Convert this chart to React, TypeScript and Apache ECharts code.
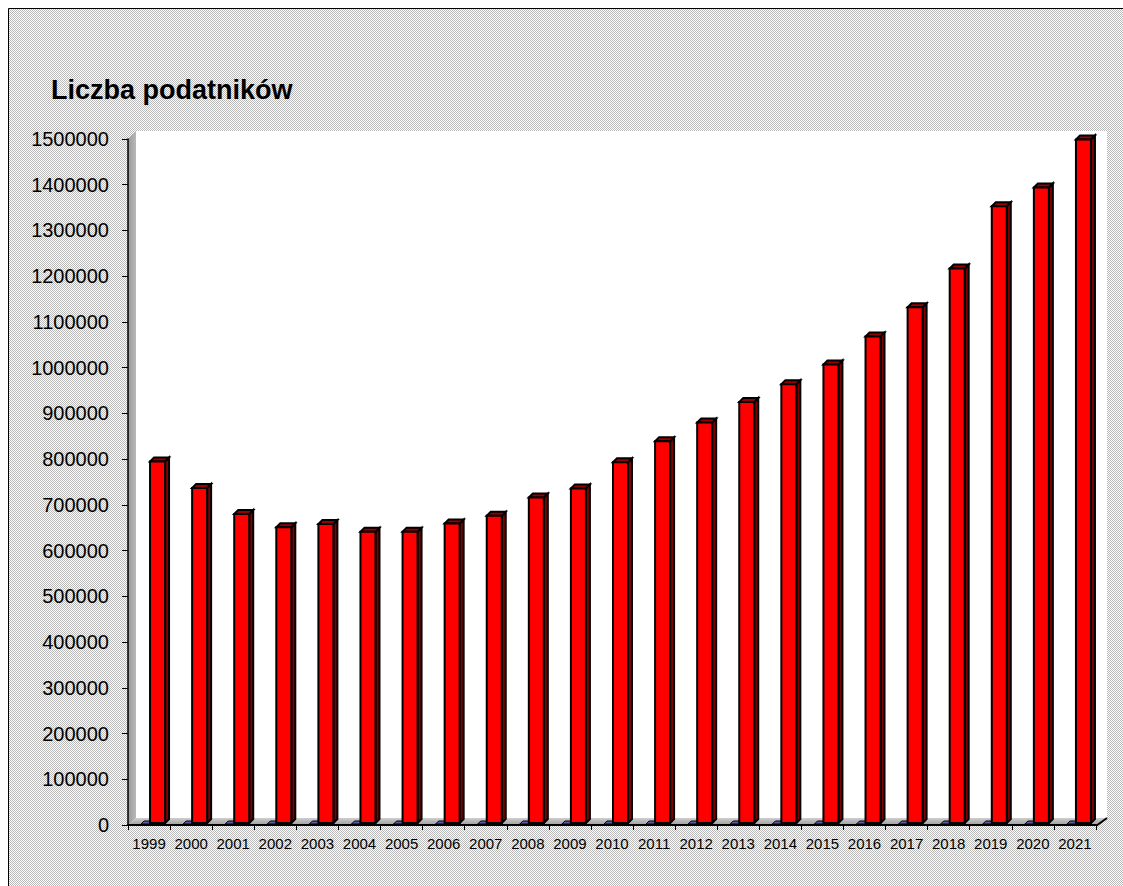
import React, { useEffect, useRef } from "react";
import * as echarts from "echarts";

const titleText = "Liczba podatników";
const years = [
  "1999", "2000", "2001", "2002", "2003", "2004", "2005", "2006", "2007", "2008", "2009", "2010",
  "2011", "2012", "2013", "2014", "2015", "2016", "2017", "2018", "2019", "2020", "2021",
];
const taxpayers = [
  795000, 737000, 680000, 651000, 658000, 641000, 641000, 659000, 676000, 716000, 736000, 793000,
  839000, 880000, 925000, 964000, 1007000, 1068000, 1132000, 1217000, 1353000, 1394000, 1499000,
];
const secondSeries = [0, 0, 0, 0, 0, 0, 0, 0, 0, 0, 0, 0, 0, 0, 0, 0, 0, 0, 0, 0, 0, 0, 0];
const yMin = 0;
const yMax = 1500000;
const yStep = 100000;

const FONT = "'Liberation Sans', Arial, sans-serif";

function makePattern(): string {
  const c = document.createElement("canvas");
  c.width = 2;
  c.height = 2;
  const ctx = c.getContext("2d")!;
  ctx.fillStyle = "#ffffff";
  ctx.fillRect(0, 0, 2, 2);
  ctx.fillStyle = "#b8b8b8";
  ctx.fillRect(0, 0, 1, 1);
  ctx.fillRect(1, 1, 1, 1);
  return c.toDataURL();
}

export default function App() {
  const ref = useRef<HTMLDivElement>(null);
  useEffect(() => {
    if (!ref.current) return;
    const chart = echarts.init(ref.current, undefined, { renderer: "svg" });
    const pat = makePattern();
    const left = 128;
    const right = 1096;
    const top = 139;
    const bottom = 825;

    const redItem = (params: any, api: any) => {
      const idx = api.value(0);
      const p = api.coord([idx, api.value(1)]);
      const b = api.coord([idx, 0]);
      const cx = p[0];
      const yTop = p[1];
      const yBase = b[1] - 2;
      const x0 = cx + 1;
      const x1 = cx + 16;
      const d = 4;
      const st = { stroke: "#000", lineWidth: 2, lineJoin: "miter" };
      return {
        type: "group",
        children: [
          {
            type: "polygon",
            shape: { points: [[x1, yBase], [x1, yTop], [x1 + d, yTop - d], [x1 + d, yBase - d]] },
            style: { fill: "#800000", ...st },
          },
          {
            type: "polygon",
            shape: { points: [[x0, yTop], [x1, yTop], [x1 + d, yTop - d], [x0 + d, yTop - d]] },
            style: { fill: "#990000", ...st },
          },
          {
            type: "rect",
            shape: { x: x0, y: yTop, width: x1 - x0, height: yBase - yTop },
            style: { fill: "#ff0000", ...st },
          },
        ],
      };
    };

    const blueItem = (params: any, api: any) => {
      const idx = api.value(0);
      const p = api.coord([idx, api.value(1)]);
      const cx = p[0];
      const y = p[1] - 2;
      return {
        type: "polygon",
        shape: { points: [[cx - 8, y + 1], [cx + 1, y + 1], [cx + 4, y - 2], [cx - 5, y - 2]] },
        style: { fill: "#5a5aa8", stroke: "#000", lineWidth: 1 },
      };
    };

    chart.setOption({
      animation: false,
      backgroundColor: "#ffffff",
      title: {
        text: titleText,
        left: 46,
        top: 71,
        textStyle: { fontFamily: FONT, fontSize: 27, fontWeight: "bold", color: "#000" },
      },
      graphic: [
        {
          type: "rect",
          z: -5,
          shape: { x: 8.5, y: 8.5, width: 1300, height: 1000 },
          style: {
            fill: { image: pat, repeat: "repeat", imageWidth: 2, imageHeight: 2 } as any,
            stroke: "#000",
            lineWidth: 1,
          },
        },
        {
          type: "rect",
          z: -4,
          shape: { x: 136, y: 131, width: 1107 - 136, height: 818 - 131 },
          style: { fill: "#ffffff" },
        },
        {
          type: "polygon",
          z: -4,
          shape: { points: [[left, top], [136, 131], [136, 818], [left, bottom + 1]] },
          style: {
            fill: new echarts.graphic.LinearGradient(0, 0, 1, 0, [
              { offset: 0, color: "#9a9a9a" },
              { offset: 1, color: "#b8b8b8" },
            ]),
          },
        },
        {
          type: "polygon",
          z: -4,
          shape: { points: [[left, bottom + 1], [136, 818], [1107, 818], [right + 1, bottom + 1]] },
          style: {
            fill: new echarts.graphic.LinearGradient(0, 0, 0, 1, [
              { offset: 0, color: "#cfcfcf" },
              { offset: 1, color: "#969696" },
            ]),
          },
        },
        {
          type: "line",
          z: 3,
          shape: { x1: right, y1: bottom + 1, x2: 1107, y2: 818 },
          style: { stroke: "#000", lineWidth: 2 },
        },
      ],
      grid: { left: left, right: 1123 - right, top: top, bottom: 886 - bottom, containLabel: false },
      xAxis: {
        type: "category",
        data: years,
        z: 3,
        boundaryGap: true,
        axisLine: { show: true, lineStyle: { color: "#000", width: 2 } },
        axisTick: { show: true, interval: 0, length: 5, lineStyle: { color: "#000", width: 1 } },
        axisLabel: { interval: 0, fontFamily: FONT, fontSize: 15, color: "#000", margin: 11 },
        splitLine: { show: false },
      },
      yAxis: {
        type: "value",
        min: yMin,
        max: yMax,
        interval: yStep,
        z: 3,
        axisLine: { show: true, lineStyle: { color: "#000", width: 1.5 } },
        axisTick: { show: true, length: 6, lineStyle: { color: "#000", width: 1 } },
        axisLabel: {
          fontFamily: FONT,
          fontSize: 20,
          color: "#000",
          margin: 19,
          formatter: (v: number) => String(v),
        },
        splitLine: { show: false },
      },
      series: [
        {
          type: "custom",
          name: "s2",
          z: 4,
          renderItem: blueItem,
          encode: { x: 0, y: 1 },
          data: secondSeries.map((v, i) => [i, v]),
        },
        {
          type: "custom",
          name: "Liczba podatników",
          z: 5,
          renderItem: redItem,
          encode: { x: 0, y: 1 },
          data: taxpayers.map((v, i) => [i, v]),
        },
      ],
    });
    return () => chart.dispose();
  }, []);
  return (
    <div
      ref={ref}
      style={{ position: "absolute", left: 0, top: 0, width: 1123, height: 886 }}
    />
  );
}
